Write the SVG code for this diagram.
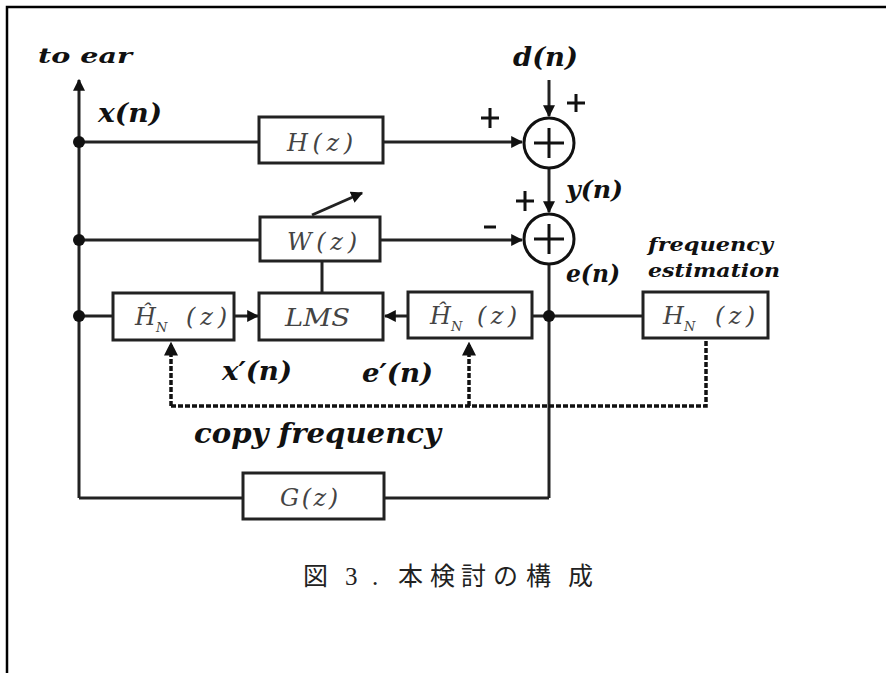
<svg xmlns="http://www.w3.org/2000/svg" width="886" height="673" viewBox="0 0 886 673">
<style>
.box{fill:#fff;stroke:#222;stroke-width:3}
.ln{fill:none;stroke:#222;stroke-width:3}
.dot{fill:none;stroke:#111;stroke-width:3.5;stroke-dasharray:5 2}
.sym{fill:none;stroke:#111;stroke-width:3}
.lab{font-family:"DejaVu Serif","Liberation Serif",serif;font-style:italic;font-weight:bold;fill:#111}
.blab{font-family:"DejaVu Serif","Liberation Serif",serif;font-style:italic;fill:#444}
.cap{font-family:"Liberation Serif","Noto Sans CJK JP",serif;font-size:25px;fill:#222}
</style>
<defs>
<marker id="ah" viewBox="0 0 10 10" refX="9" refY="5" markerWidth="4" markerHeight="4" orient="auto" markerUnits="strokeWidth">
<path d="M0,0 L10,5 L0,10 z" fill="#111"/>
</marker>
</defs>
<rect width="886" height="673" fill="#fff"/>
<path d="M7,673 V7 H886" fill="none" stroke="#000" stroke-width="2.5"/>
<g id="connectors">
<line class="ln" x1="79" y1="498" x2="79" y2="80" marker-end="url(#ah)"/>
<line class="ln" x1="79" y1="142" x2="259" y2="142"/>
<line class="ln" x1="383" y1="142" x2="522" y2="142" marker-end="url(#ah)"/>
<line class="ln" x1="79" y1="240" x2="260" y2="240"/>
<line class="ln" x1="380" y1="240" x2="522" y2="240" marker-end="url(#ah)"/>
<line class="ln" x1="79" y1="316" x2="113" y2="316"/>
<line class="ln" x1="234" y1="316" x2="258" y2="316" marker-end="url(#ah)"/>
<line class="ln" x1="408" y1="316" x2="385" y2="316" marker-end="url(#ah)"/>
<line class="ln" x1="532" y1="316" x2="643" y2="316"/>
<line class="ln" x1="322" y1="261" x2="322" y2="293"/>
<line class="ln" x1="549" y1="80" x2="549" y2="116" marker-end="url(#ah)"/>
<line class="ln" x1="549" y1="169" x2="549" y2="212" marker-end="url(#ah)"/>
<line class="ln" x1="549" y1="265" x2="549" y2="498"/>
<path class="ln" d="M79,498 H243 M384,498 H549"/>
<line class="ln" x1="312" y1="215" x2="362" y2="193" marker-end="url(#ah)"/>
<path class="dot" d="M171,406 H706 V338"/>
<line class="dot" x1="171" y1="406" x2="171" y2="343" marker-end="url(#ah)"/>
<line class="dot" x1="469" y1="406" x2="469" y2="343" marker-end="url(#ah)"/>
<circle cx="79" cy="142" r="6" fill="#111"/>
<circle cx="79" cy="240" r="6" fill="#111"/>
<circle cx="79" cy="316" r="6" fill="#111"/>
<circle cx="549" cy="316" r="6" fill="#111"/>
</g>
<g id="H">
<rect class="box" x="259" y="117" width="124" height="46"/>
<text class="blab" x="287" y="151" font-size="24" textLength="66" lengthAdjust="spacing">H(z)</text>
</g>
<g id="W">
<rect class="box" x="260" y="217" width="120" height="44"/>
<text class="blab" x="287" y="250" font-size="24" textLength="70" lengthAdjust="spacing">W(z)</text>
</g>
<g id="LMS">
<rect class="box" x="259" y="293" width="124" height="47"/>
<text class="blab" x="285" y="326" font-size="24" textLength="65" lengthAdjust="spacingAndGlyphs">LMS</text>
</g>
<g id="HhatN1">
<rect class="box" x="113" y="293" width="121" height="47"/>
<text class="blab" x="135" y="325" font-size="24">Ĥ<tspan dy="7" font-size="13">N</tspan><tspan x="186" dy="-7" font-size="24" textLength="41" lengthAdjust="spacing">(z)</tspan></text>
</g>
<g id="HhatN2">
<rect class="box" x="408" y="292" width="124" height="46"/>
<text class="blab" x="430" y="324" font-size="24">Ĥ<tspan dy="7" font-size="13">N</tspan><tspan x="477" dy="-7" font-size="24" textLength="40" lengthAdjust="spacing">(z)</tspan></text>
</g>
<g id="HN">
<rect class="box" x="643" y="292" width="125" height="46"/>
<text class="blab" x="663" y="324" font-size="24">H<tspan dy="7" font-size="13">N</tspan><tspan x="715" dy="-7" font-size="24" textLength="40" lengthAdjust="spacing">(z)</tspan></text>
</g>
<g id="G">
<rect class="box" x="243" y="473" width="141" height="46"/>
<text class="blab" x="280" y="506" font-size="24" textLength="58" lengthAdjust="spacing">G(z)</text>
</g>
<g id="sum1">
<circle class="sym" cx="549" cy="143" r="25"/>
<path class="sym" d="M534,143 H564 M549,128 V158"/>
</g>
<g id="sum2">
<circle class="sym" cx="549" cy="239" r="25"/>
<path class="sym" d="M534,239 H564 M549,224 V254"/>
</g>
<g id="signs">
<path class="sym" d="M481,118 H499 M490,108 V128"/>
<path class="sym" d="M567,103 H585 M576,94 V112"/>
<path class="sym" d="M516,201 H534 M525,191 V211"/>
<path class="sym" d="M484,227 H496"/>
</g>
<g id="labels">
<text class="lab" x="38" y="63" font-size="20" textLength="94" lengthAdjust="spacingAndGlyphs">to ear</text>
<text class="lab" x="98" y="122" font-size="26" textLength="64" lengthAdjust="spacingAndGlyphs">x(n)</text>
<text class="lab" x="513" y="66" font-size="26" textLength="65" lengthAdjust="spacingAndGlyphs">d(n)</text>
<text class="lab" x="566" y="198" font-size="25" textLength="57" lengthAdjust="spacingAndGlyphs">y(n)</text>
<text class="lab" x="566" y="282" font-size="25" textLength="54" lengthAdjust="spacingAndGlyphs">e(n)</text>
<text class="lab" x="222" y="380" font-size="26" textLength="70" lengthAdjust="spacingAndGlyphs">x′(n)</text>
<text class="lab" x="362" y="382" font-size="26" textLength="71" lengthAdjust="spacingAndGlyphs">e′(n)</text>
<text class="lab" x="648" y="251" font-size="18" textLength="125" lengthAdjust="spacingAndGlyphs">frequency</text>
<text class="lab" x="648" y="277" font-size="18" textLength="132" lengthAdjust="spacingAndGlyphs">estimation</text>
<text class="lab" x="194" y="443" font-size="27" textLength="247" lengthAdjust="spacingAndGlyphs">copy frequency</text>
<text class="cap" x="303 330 345 372 380 398 430 461 493 526 568" y="585">図 3. 本検討の構成</text>
</g>
</svg>
